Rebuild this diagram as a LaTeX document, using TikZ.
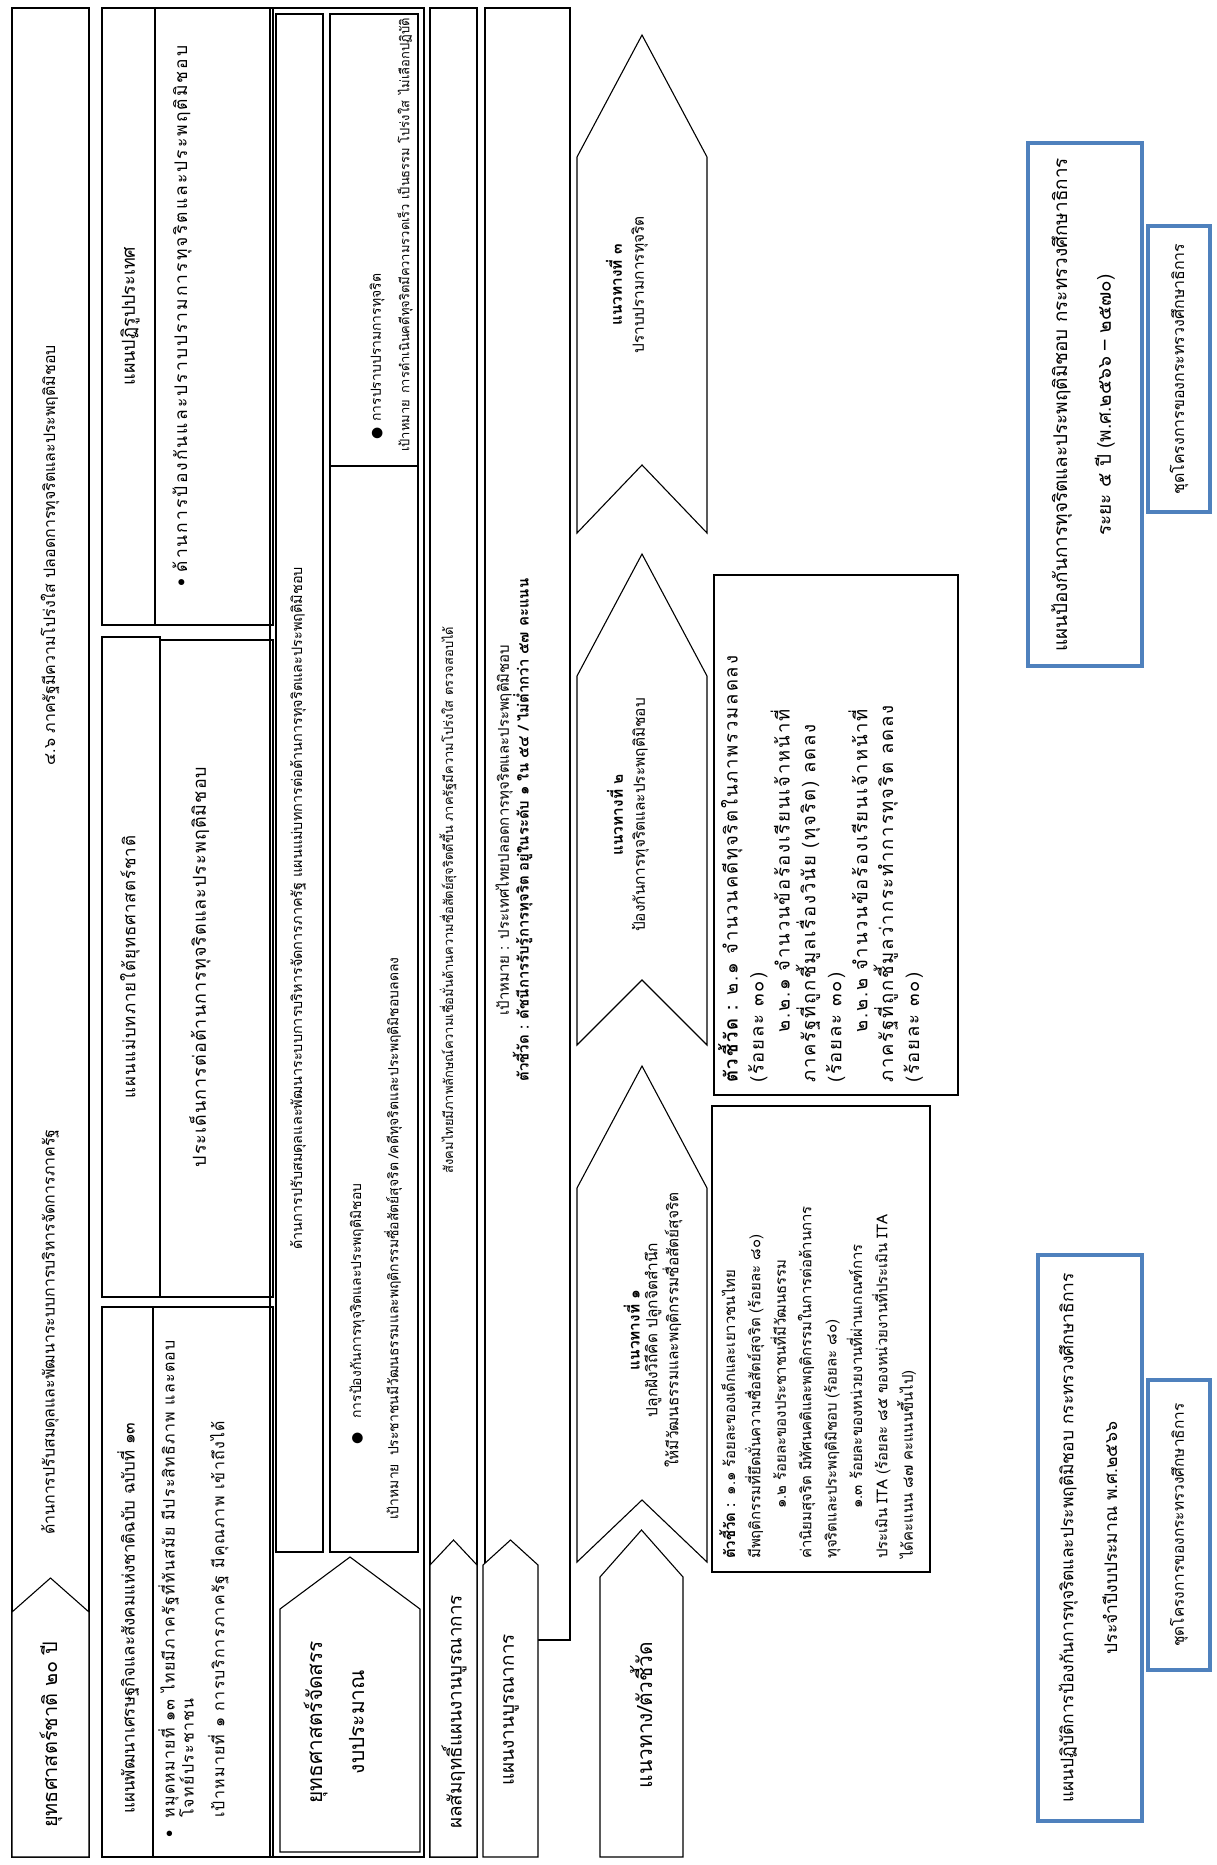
\documentclass[tikz,border=0pt]{standalone}
\usepackage{fontspec}
\newfontfamily\thai[Script=Thai]{Loma}
\newfontfamily\sym{DejaVu Sans}
\definecolor{boxblue}{RGB}{79,129,189}
\newcommand\fs[2]{\thai\fontsize{#1}{#2}\selectfont}
\newcommand\ls[1]{\addfontfeatures{LetterSpace=#1}}
\tikzset{
  box/.style={draw=black, line width=1.1bp},
  pent/.style={draw=black, line width=1.1bp, fill=white},
  bbox/.style={draw=boxblue, line width=3.5bp},
  tx/.style={rotate=90, inner sep=0pt, font=\fs{13}{15}},
  ttl/.style={rotate=90, inner sep=0pt, font=\fs{20}{42}},
}
% x1, x2, y apex, y shoulder, y bottom
\newcommand\pentup[5]{\draw[pent] (#1,#5) -- (#1,#4) -- ({(#1+#2)/2},#3) -- (#2,#4) -- (#2,#5) -- cycle;}
% x1, x2, y apex, y shoulder, y notch, y corner
\newcommand\chevup[6]{\draw[pent] (#1,#6) -- (#1,#4) -- ({(#1+#2)/2},#3) -- (#2,#4) -- (#2,#6) -- ({(#1+#2)/2},#5) -- cycle;}
\begin{document}
\begin{tikzpicture}[x=1bp,y=-1bp]
\fill[white] (0,0) rectangle (1216,1865);
\useasboundingbox (0,0) rectangle (1216,1865);

% ---------- Column A : national strategy
\draw[box] (12,8) rectangle (89,1857);
\pentup{12}{89}{1578}{1612}{1857}
\node[ttl] (aT) at (51,1735) {ยุทธศาสตร์ชาติ ๒๐ ปี};
\node[tx, anchor=west, font=\fs{16}{18}] (aX1) at (50,1535) {ด้านการปรับสมดุลและพัฒนาระบบการบริหารจัดการภาครัฐ};
\node[tx, anchor=east, font=\fs{16}{18}] (aX2) at (50,345) {๔.๖ ภาครัฐมีความโปร่งใส ปลอดการทุจริตและประพฤติมิชอบ};

% ---------- Column B
\draw[box] (102,1307) rectangle (273,1857);
\draw[box] (153,1307) -- (153,1857);
\node[tx, font=\fs{17}{19}] (b1h) at (128,1618) {แผนพัฒนาเศรษฐกิจและสังคมแห่งชาติฉบับ ฉบับที่ ๑๓};
\node[tx, anchor=north west, align=left, font=\fs{16}{19}\ls{8}] (b1c) at (158,1838)
 {•\hspace{12bp}หมุดหมายที่ ๑๓ ไทยมีภาครัฐที่ทันสมัย มีประสิทธิภาพ และตอบ\\
  \hspace{20bp}โจทย์ประชาชน\\[12bp]
  \hspace{20bp}เป้าหมายที่ ๑ การบริการภาครัฐ มีคุณภาพ เข้าถึงได้};

\draw[box] (102,637) rectangle (160,1297);
\draw[box] (160,640) rectangle (273,1297);
\node[tx, font=\fs{17}{19}\ls{6}] (b2h) at (130,967) {แผนแม่บทภายใต้ยุทธศาสตร์ชาติ};
\node[tx, font=\fs{18}{20}\ls{6}] (b2c) at (200,967) {ประเด็นการต่อต้านการทุจริตและประพฤติมิชอบ};

\draw[box] (102,8) rectangle (273,625);
\draw[box] (155,8) -- (155,625);
\node[tx, font=\fs{18}{20}] (b3h) at (130,316) {แผนปฏิรูปประเทศ};
\node[tx, font=\fs{17.5}{19}\ls{12}] (b3c) at (182,316) {•\hspace{6bp}ด้านการป้องกันและปราบปรามการทุจริตและประพฤติมิชอบ};

% ---------- Column C
\draw[box] (270,8) rectangle (424,1857);
\draw[box] (276,14) rectangle (323,1552);
\draw[box] (330,14) rectangle (418,466);
\draw[box] (330,466) rectangle (418,1552);
\pentup{280}{420}{1557}{1609}{1852}
\node[ttl, align=center, font=\fs{21}{42}] (cT) at (334,1722) {ยุทธศาสตร์จัดสรร\\งบประมาณ};
\node[tx, anchor=west, font=\fs{14.5}{17}] (cH) at (298,1250) {ด้านการปรับสมดุลและพัฒนาระบบการบริหารจัดการภาครัฐ แผนแม่บทการต่อต้านการทุจริตและประพฤติมิชอบ};
\node[tx, anchor=west, font=\fs{14}{16}] (c1a) at (357,1445) {{\sym ●}\hspace{14bp}การป้องกันการทุจริตและประพฤติมิชอบ};
\node[tx, anchor=west, font=\fs{14}{16}] (c1b) at (393,1520) {เป้าหมาย\hspace{8bp}ประชาชนมีวัฒนธรรมและพฤติกรรมซื่อสัตย์สุจริต /คดีทุจริตและประพฤติมิชอบลดลง};
\node[tx, anchor=west, font=\fs{14}{16}] (c2a) at (377,440) {{\sym ●}\hspace{6bp}การปราบปรามการทุจริต};
\node[tx, anchor=west] (c2b) at (405,452) {เป้าหมาย\hspace{6bp}การดำเนินคดีทุจริตมีความรวดเร็ว เป็นธรรม โปร่งใส\hspace{6bp}ไม่เลือกปฏิบัติ};

% ---------- Column D
\draw[box] (430,8) rectangle (477,1857);
\pentup{430}{477}{1540}{1565}{1857}
\node[ttl, font=\fs{19}{21}] (dT) at (454,1712) {ผลสัมฤทธิ์แผนงานบูรณาการ};
\node[tx] (dX) at (448,900) {สังคมไทยมีภาพลักษณ์ความเชื่อมั่นด้านความซื่อสัตย์สุจริตดีขึ้น ภาครัฐมีความโปร่งใส ตรวจสอบได้};

% ---------- Column E
\draw[box] (485,8) rectangle (570,1640);
\pentup{483}{538}{1540}{1565}{1857}
\node[ttl, font=\fs{19}{21}] (eT) at (511,1710) {แผนงานบูรณาการ};
\node[tx, align=center, font=\fs{15}{20}] (eX) at (514,830)
 {เป้าหมาย : ประเทศไทยปลอดการทุจริตและประพฤติมิชอบ\\
  \textbf{ตัวชี้วัด : ดัชนีการรับรู้การทุจริต อยู่ในระดับ ๑ ใน ๕๔ / ไม่ต่ำกว่า ๕๗ คะแนน}};

% ---------- Column F : approaches
\chevup{577}{707}{35}{157}{465}{533}
\chevup{577}{707}{554}{676}{980}{1045}
\chevup{577}{707}{1066}{1188}{1500}{1562}
\pentup{600}{683}{1530}{1577}{1857}
\node[ttl, font=\fs{21}{24}] (fT) at (641,1715) {แนวทาง/ตัวชี้วัด};
\node[tx, align=center, font=\fs{15.5}{18}] (f1) at (653,1330)
 {\textbf{แนวทางที่ ๑}\\ปลูกฝังวิถีคิด ปลูกจิตสำนึก\\ให้มีวัฒนธรรมและพฤติกรรมซื่อสัตย์สุจริต};
\node[tx, align=center, font=\fs{15.5}{22}] (f2) at (628,815)
 {\textbf{แนวทางที่ ๒}\\ป้องกันการทุจริตและประพฤติมิชอบ};
\node[tx, align=center, font=\fs{15.5}{22}] (f3) at (627,285)
 {\textbf{แนวทางที่ ๓}\\ปราบปรามการทุจริต};

% ---------- Indicator boxes
\draw[box] (712,1106) rectangle (930,1572);
\node[tx, anchor=north west, align=left, font=\fs{15}{25.5}] (g1) at (719,1559)
 {\textbf{ตัวชี้วัด :}\hspace{8bp}๑.๑ ร้อยละของเด็กและเยาวชนไทย\\
  มีพฤติกรรมที่ยึดมั่นความซื่อสัตย์สุจริต (ร้อยละ ๘๐)\\
  \hspace*{50bp}๑.๒ ร้อยละของประชาชนที่มีวัฒนธรรม\\
  ค่านิยมสุจริต มีทัศนคติและพฤติกรรมในการต่อต้านการ\\
  ทุจริตและประพฤติมิชอบ (ร้อยละ ๘๐)\\
  \hspace*{50bp}๑.๓ ร้อยละของหน่วยงานที่ผ่านเกณฑ์การ\\
  ประเมิน ITA (ร้อยละ ๘๕ ของหน่วยงานที่ประเมิน ITA\\
  ได้คะแนน ๘๗ คะแนนขึ้นไป)};

\draw[box] (714,575) rectangle (958,1095);
\node[tx, anchor=north west, align=left, font=\fs{18.5}{26}\ls{10}] (g2) at (718,1083)
 {\textbf{ตัวชี้วัด :}\hspace{8bp}๒.๑ จำนวนคดีทุจริตในภาพรวมลดลง\\
  (ร้อยละ ๓๐)\\
  \hspace*{50bp}๒.๒.๑ จำนวนข้อร้องเรียนเจ้าหน้าที่\\
  ภาครัฐที่ถูกชี้มูลเรื่องวินัย (ทุจริต) ลดลง\\
  (ร้อยละ ๓๐)\\
  \hspace*{50bp}๒.๒.๒ จำนวนข้อร้องเรียนเจ้าหน้าที่\\
  ภาครัฐที่ถูกชี้มูลว่ากระทำการทุจริต ลดลง\\
  (ร้อยละ ๓๐)};

% ---------- Ministry plans (blue)
\draw[bbox] (1038,1255) rectangle (1142,1821);
\node[tx, align=center, font=\fs{17.5}{44}] (h1) at (1088,1538)
 {แผนปฏิบัติการป้องกันการทุจริตและประพฤติมิชอบ กระทรวงศึกษาธิการ\\ประจำปีงบประมาณ พ.ศ.๒๕๖๖};
\draw[bbox] (1148,1380) rectangle (1210,1670);
\node[tx, font=\fs{15.5}{17}] (h2) at (1179,1525) {ชุดโครงการของกระทรวงศึกษาธิการ};

\draw[bbox] (1028,143) rectangle (1142,666);
\node[tx, align=center, font=\fs{19}{44}] (h3) at (1083,405)
 {แผนป้องกันการทุจริตและประพฤติมิชอบ กระทรวงศึกษาธิการ\\ระยะ ๕ ปี (พ.ศ.๒๕๖๖ – ๒๕๗๐)};
\draw[bbox] (1148,226) rectangle (1210,512);
\node[tx, font=\fs{16}{18}] (h4) at (1179,369) {ชุดโครงการของกระทรวงศึกษาธิการ};
\end{tikzpicture}
\end{document}
